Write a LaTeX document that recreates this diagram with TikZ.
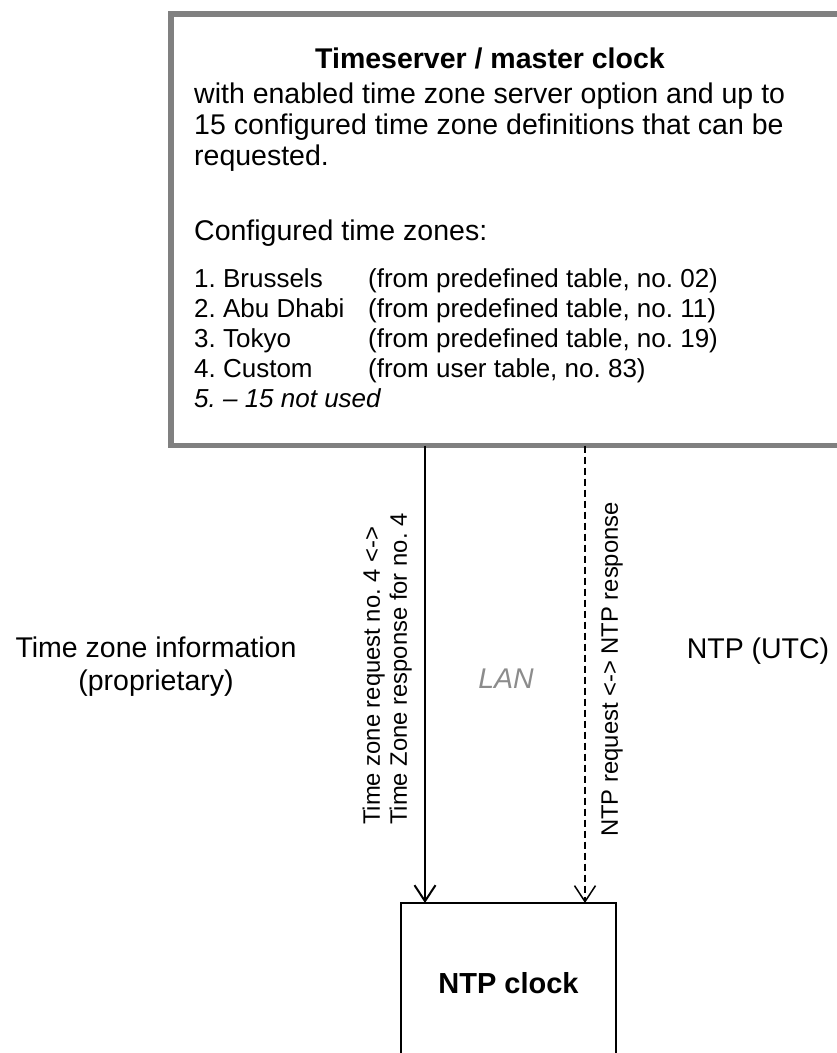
\documentclass[tikz,border=0pt]{standalone}
\usepackage{fontspec}
\setmainfont{Liberation Sans}
\usetikzlibrary{positioning,arrows.meta}
\definecolor{marco}{HTML}{808080}
\definecolor{grislan}{HTML}{8C8C8C}
\frenchspacing

\begin{document}
\begin{tikzpicture}[x=1pt,y=-1pt,
      txt/.style={font=\fontsize{28.5}{31}\selectfont, inner sep=0pt, anchor=base west},
      tab/.style={font=\fontsize{26}{30}\selectfont, inner sep=0pt, anchor=base west},
      vlab/.style={font=\fontsize{23.8}{27}\selectfont, inner sep=0pt, rotate=90,
                   align=left, anchor=south west},
      caja/.style={draw, outer sep=0pt, inner sep=0pt, anchor=north west},
      flecha/.style={-{Straight Barb[length=16pt,width=21pt]}, line width=2pt}]
    \clip (0,0) rectangle (837,1053);

    % --- Servidor de tiempo -------------------------------------------
    \node[caja, draw=marco, line width=5.5pt, minimum width=700pt,
          minimum height=431.5pt] (server) at (171,14) {};
    \node[txt, anchor=base, font=\fontsize{28.5}{31}\selectfont\bfseries] (titulo)
      at (490,68) {Timeserver / master clock};
    \node[txt] (l1) at (194,103) {with enabled time zone server option and up to};
    \node[txt] (l2) at (194,134) {15 configured time zone definitions that can be};
    \node[txt] (l3) at (194,165) {requested.};
    \node[txt] (conf) at (194,240) {Configured time zones:};

    \foreach \c/\o [count=\i from 0] in {1. Brussels/{(from predefined table, no. 02)},
        2. Abu Dhabi/{(from predefined table, no. 11)},
        3. Tokyo/{(from predefined table, no. 19)},
        4. Custom/{(from user table, no. 83)}}{
      \node[tab] (c\i) at (194,287+30*\i) {\c};
      \node[tab] (o\i) at (368,287+30*\i) {\o};
    }
    \node[tab, font=\fontsize{26}{30}\selectfont\itshape] (resto) at (194,407) {5. – 15 not used};

    % --- Reloj NTP ------------------------------------------------------
    \node[caja, line width=2pt, minimum width=215pt, minimum height=160pt,
          font=\fontsize{29}{31}\selectfont\bfseries] (ntpclock) at (401,903) {NTP clock};

    \draw[flecha] (425,0 |- server.south) -- (425,0 |- ntpclock.north);
    \draw[flecha, line width=1.5pt, dash pattern=on 7pt off 4pt]
      (585,0 |- server.south) -- (585,0 |- ntpclock.north);

    % --- Rotulos ----------------------------------------------------------
    \node[vlab] (tzreq) at (412,825) {Time zone request no. 4 <->\\Time Zone response for no. 4};
    \node[vlab] (ntpreq) at (623,837) {NTP request <-> NTP response};
    \node[txt, anchor=base] (tzinfo) at (156,657) {Time zone information};
    \node[txt, anchor=base] (prop) at (156,690) {(proprietary)};
    \node[txt, anchor=base] (ntputc) at (758,658) {NTP (UTC)};
    \node[txt, anchor=base, font=\fontsize{28.5}{31}\selectfont\itshape, text=grislan] (lan)
      at (506,688) {LAN};
  \end{tikzpicture}
\end{document}
